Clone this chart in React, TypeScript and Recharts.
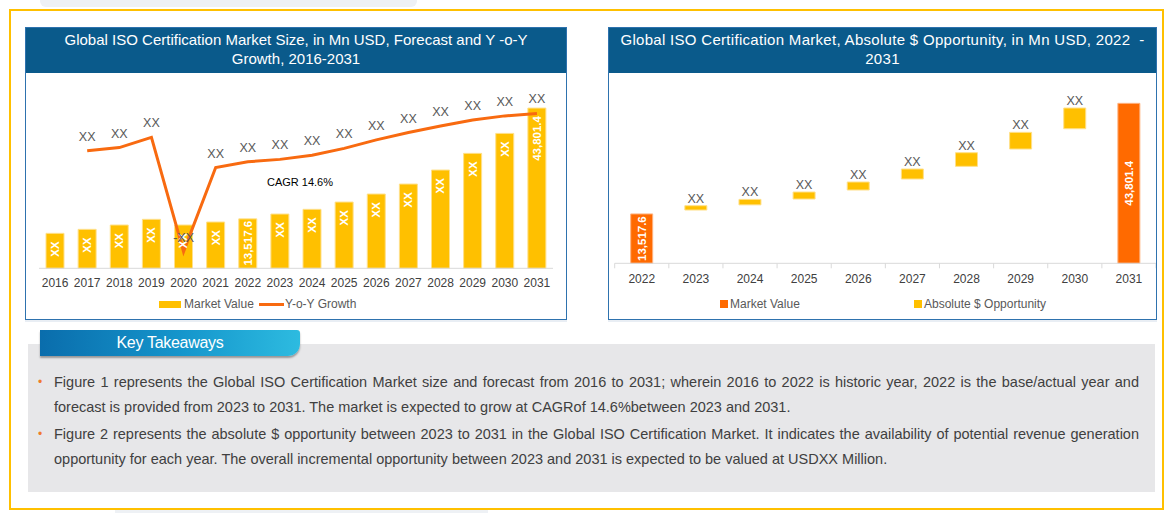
import React from 'react';
import { ComposedChart, BarChart, Bar, Line, XAxis, YAxis, LabelList, Cell } from 'recharts';

// ---------- Figure 1 data ----------
const years = ['2016', '2017', '2018', '2019', '2020', '2021', '2022', '2023', '2024', '2025', '2026', '2027', '2028', '2029', '2030', '2031'];
const marketValue = [9560, 10650, 11830, 13390, 11830, 12650, 13517.6, 14830, 16120, 18110, 20300, 23030, 26860, 31420, 36880, 43801.4];
const yoyGrowth: (number | null)[] = [null, 8.9, 9.7, 12.2, -15.9, 4.8, 6.2, 6.8, 7.8, 9.5, 11.6, 13.4, 15.0, 16.5, 17.5, 18.1];
const marketLabels = ['XX', 'XX', 'XX', 'XX', 'XX', 'XX', '13,517.6', 'XX', 'XX', 'XX', 'XX', 'XX', 'XX', 'XX', 'XX', '43,801.4'];
const growthLabels = ['', 'XX', 'XX', 'XX', '-XX', 'XX', 'XX', 'XX', 'XX', 'XX', 'XX', 'XX', 'XX', 'XX', 'XX', 'XX'];

// ---------- Figure 2 data ----------
const oppYears = ['2022', '2023', '2024', '2025', '2026', '2027', '2028', '2029', '2030', '2031'];
const oppLow = [0, 14590, 16000, 17600, 20070, 23080, 26550, 31290, 36850, 0];
const oppHigh = [13517.6, 15770, 17500, 19520, 22260, 25820, 30280, 35860, 42520, 43801.4];
const oppType = ['Market Value', 'Absolute $ Opportunity', 'Absolute $ Opportunity', 'Absolute $ Opportunity', 'Absolute $ Opportunity', 'Absolute $ Opportunity', 'Absolute $ Opportunity', 'Absolute $ Opportunity', 'Absolute $ Opportunity', 'Market Value'];
const oppLabels = ['13,517.6', 'XX', 'XX', 'XX', 'XX', 'XX', 'XX', 'XX', 'XX', '43,801.4'];

const cagrText = 'CAGR 14.6%';
const title1 = ['Global ISO Certification Market Size, in Mn USD, Forecast and Y -o-Y', 'Growth, 2016-2031'];
const title2 = ['Global ISO Certification Market, Absolute $ Opportunity, in Mn USD, 2022\u00A0\u00A0-', '2031'];

const YELLOW = '#FFC000';
const ORANGE = '#FF6A00';
const LINE_ORANGE = '#F86A10';
const TITLE_BLUE = '#0A5A8B';
const FONT = "'Liberation Sans', Arial, sans-serif";

const fig1Data = years.map((y, i) => ({ year: y, market: marketValue[i], growth: yoyGrowth[i] }));
const fig2Data = oppYears.map((y, i) => ({ year: y, range: [oppLow[i], oppHigh[i]], type: oppType[i] }));

function vbOf(p: any) {
  const v = p.viewBox && p.viewBox.x != null ? p.viewBox : p;
  return { x: Number(v.x), y: Number(v.y), width: Number(v.width || 0), height: Number(v.height || 0) };
}

const BarInsideLabel = (p: any) => {
  const { x, y, width, height } = vbOf(p);
  const idx = p.index != null ? p.index : marketValue.indexOf(p.value);
  const text = marketLabels[idx];
  if (!text) return null;
  const top = Math.min(y, y + height);
  const bottom = Math.max(y, y + height);
  const cx = x + width / 2;
  const len = text.length * 6.2;
  let endY = top + 8;
  if (endY + len > bottom - 3) endY = Math.max(top + 2, bottom - 3 - len);
  return (
    <text x={cx} y={endY} transform={`rotate(-90 ${cx} ${endY})`} textAnchor="end" dominantBaseline="central"
      fill="#fff" fontSize={11.5} fontWeight="bold" fontFamily={FONT}>{text}</text>
  );
};

const GrowthLabel = (p: any) => {
  if (p.value == null) return null;
  const { x, y } = vbOf(p);
  const idx = p.index != null ? p.index : yoyGrowth.indexOf(p.value);
  const text = growthLabels[idx];
  if (!text) return null;
  return <text x={x} y={y - 10} textAnchor="middle" fill="#595959" fontSize={12.5} fontFamily={FONT}>{text}</text>;
};

const OppLabel = (p: any) => {
  const { x, y, width, height } = vbOf(p);
  const idx = p.index;
  const text = oppLabels[idx];
  if (!text) return null;
  const top = Math.min(y, y + height);
  const cx = x + width / 2;
  if (oppType[idx] === 'Market Value') {
    const cy = top + Math.abs(height) / 2;
    return (
      <text x={cx} y={cy} transform={`rotate(-90 ${cx} ${cy})`} textAnchor="middle" dominantBaseline="central"
        fill="#fff" fontSize={11.5} fontWeight="bold" fontFamily={FONT}>{text}</text>
    );
  }
  return <text x={cx} y={top - 3} textAnchor="middle" fill="#595959" fontSize={12.5} fontFamily={FONT}>{text}</text>;
};

const OppTick = (p: any) => {
  const { x, y, payload, index } = p;
  const band = payload && payload.offset ? payload.offset * 2 : 54.13;
  const axisY = y - 6 - 5;
  const left = x - band / 2;
  const right = x + band / 2;
  return (
    <g>
      <line x1={left} x2={left} y1={axisY} y2={axisY + 5} stroke="#D9D9D9" />
      {index === oppYears.length - 1 ? <line x1={right} x2={right} y1={axisY} y2={axisY + 5} stroke="#D9D9D9" /> : null}
      <text x={x} y={y} dy="0.71em" textAnchor="middle" fill="#404040" fontSize={12} fontFamily={FONT}>{payload.value}</text>
    </g>
  );
};

const abs = (l: number, t: number, extra: React.CSSProperties = {}): React.CSSProperties => ({ position: 'absolute', left: l, top: t, ...extra });

function Panel({ left, width, lines, spacing }: { left: number; width: number; lines: string[]; spacing: number }) {
  return (
    <div style={abs(left, 27, { width, height: 293, border: '1px solid #2E72AE', boxSizing: 'border-box', background: '#fff' })}>
      <div style={{ height: 45, background: TITLE_BLUE, color: '#fff', fontSize: 15, lineHeight: '19px', textAlign: 'center', paddingTop: 2, boxSizing: 'border-box', letterSpacing: spacing, whiteSpace: 'nowrap' }}>
        {lines.map((l, i) => <div key={i}>{l}</div>)}
      </div>
    </div>
  );
}

const textLine: React.CSSProperties = { whiteSpace: 'nowrap', height: 25, lineHeight: '25px' };

export default function App() {
  return (
    <div style={{ position: 'absolute', left: 0, top: 0, width: 1172, height: 513, background: '#fff', fontFamily: FONT, overflow: 'hidden' }}>
      {/* background artifacts */}
      <div style={abs(40, 0, { width: 377, height: 7, background: '#EEF1F5', borderRadius: '0 0 6px 6px' })} />
      <div style={abs(115, 510, { width: 373, height: 3, background: '#EEF1F5' })} />
      {/* yellow frame */}
      <div style={abs(9, 9, { width: 1155, height: 501, border: '2px solid #FFC000', boxSizing: 'border-box' })} />

      <Panel left={25} width={542} lines={title1} spacing={0} />
      <Panel left={608} width={549} lines={title2} spacing={0.3} />
      <div style={abs(25, 320, { width: 542, height: 2, background: '#E9EEF4' })} />
      <div style={abs(608, 320, { width: 549, height: 2, background: '#E9EEF4' })} />

      {/* Figure 1 */}
      <div style={abs(26, 73)}>
        <ComposedChart width={540} height={246} data={fig1Data} margin={{ top: 12.4, right: 13, left: 13, bottom: 30.7 }} barSize={18}>
          <XAxis dataKey="year" height={20} interval={0} tickLine={false} axisLine={{ stroke: '#D9D9D9' }} tickMargin={4}
            tick={{ fill: '#404040', fontSize: 12, fontFamily: FONT }} />
          <YAxis yAxisId="v" hide domain={[0, 50000]} />
          <YAxis yAxisId="g" hide orientation="right" domain={[-20, 25]} />
          <Bar yAxisId="v" dataKey="market" fill={YELLOW} stroke="#FFE08A" strokeWidth={1} isAnimationActive={false}>
            <LabelList dataKey="market" content={BarInsideLabel} />
          </Bar>
          <Line yAxisId="g" dataKey="growth" type="linear" stroke={LINE_ORANGE} strokeWidth={3} dot={false} activeDot={false} isAnimationActive={false}>
            <LabelList dataKey="growth" content={GrowthLabel} />
          </Line>
        </ComposedChart>
      </div>
      <div style={abs(250, 174, { width: 100, textAlign: 'center', fontSize: 11, color: '#000', lineHeight: '16px' })}>{cagrText}</div>
      {/* Figure 1 legend */}
      <div style={abs(159, 301, { width: 22, height: 7, background: YELLOW })} />
      <div style={abs(184, 296, { fontSize: 12, color: '#595959', lineHeight: '16px' })}>Market Value</div>
      <div style={abs(259, 303, { width: 25, height: 3, background: LINE_ORANGE })} />
      <div style={abs(285, 296, { fontSize: 12, color: '#595959', lineHeight: '16px' })}>Y-o-Y Growth</div>

      {/* Figure 2 */}
      <div style={abs(609, 73)}>
        <BarChart width={547} height={246} data={fig2Data} margin={{ top: 15, right: 0, left: 5.7, bottom: 35.7 }} barSize={22}>
          <XAxis dataKey="year" height={20} interval={0} tickLine={false} tickSize={6} tickMargin={5} axisLine={{ stroke: '#D9D9D9' }} tick={<OppTick />} />
          <YAxis hide domain={[0, 48000]} />
          <Bar dataKey="range" isAnimationActive={false}>
            {fig2Data.map((d, i) => (
              <Cell key={i} fill={d.type === 'Market Value' ? ORANGE : YELLOW} stroke={d.type === 'Market Value' ? '#FFB380' : '#FFE08A'} strokeWidth={1} />
            ))}
            <LabelList dataKey="range" content={OppLabel} />
          </Bar>
        </BarChart>
      </div>
      {/* Figure 2 legend */}
      <div style={abs(720, 300, { width: 8, height: 8, background: ORANGE })} />
      <div style={abs(730, 296, { fontSize: 12, color: '#595959', lineHeight: '16px' })}>Market Value</div>
      <div style={abs(914, 300, { width: 8, height: 8, background: YELLOW })} />
      <div style={abs(924, 296, { fontSize: 12, color: '#595959', lineHeight: '16px' })}>Absolute $ Opportunity</div>

      {/* Key takeaways */}
      <div style={abs(28, 344, { width: 1127, height: 148, background: '#E7E7E9' })} />
      <div style={abs(40, 330, {
        width: 260, height: 26, background: 'linear-gradient(90deg, #0A6DAC 0%, #1596CC 55%, #2DBBE0 100%)',
        borderRadius: '0 3px 12px 0', boxShadow: '0 2px 2px rgba(0,0,0,0.35)', color: '#fff', fontSize: 16,
        lineHeight: '26px', textAlign: 'center', letterSpacing: -0.3,
      })}>Key Takeaways</div>

      <div style={abs(54, 369.5, { width: 1085, fontSize: 14.5, color: '#404040' })}>
        <div style={{ ...textLine, textAlign: 'justify', textAlignLast: 'justify' }}>Figure 1 represents the Global ISO Certification Market size and forecast from 2016 to 2031; wherein 2016 to 2022 is historic year, 2022 is the base/actual year and</div>
        <div style={textLine}>forecast is provided from 2023 to 2031. The market is expected to grow at CAGRof 14.6%between 2023 and 2031.</div>
        <div style={{ ...textLine, marginTop: 2, textAlign: 'justify', textAlignLast: 'justify' }}>Figure 2 represents the absolute $ opportunity between 2023 to 2031 in the Global ISO Certification Market. It indicates the availability of potential revenue generation</div>
        <div style={textLine}>opportunity for each year. The overall incremental opportunity between 2023 and 2031 is expected to be valued at USDXX Million.</div>
      </div>
      <div style={abs(38, 370, { fontSize: 12, color: '#F07B2C', lineHeight: '25px' })}>•</div>
      <div style={abs(38, 422, { fontSize: 12, color: '#F07B2C', lineHeight: '25px' })}>•</div>
    </div>
  );
}
